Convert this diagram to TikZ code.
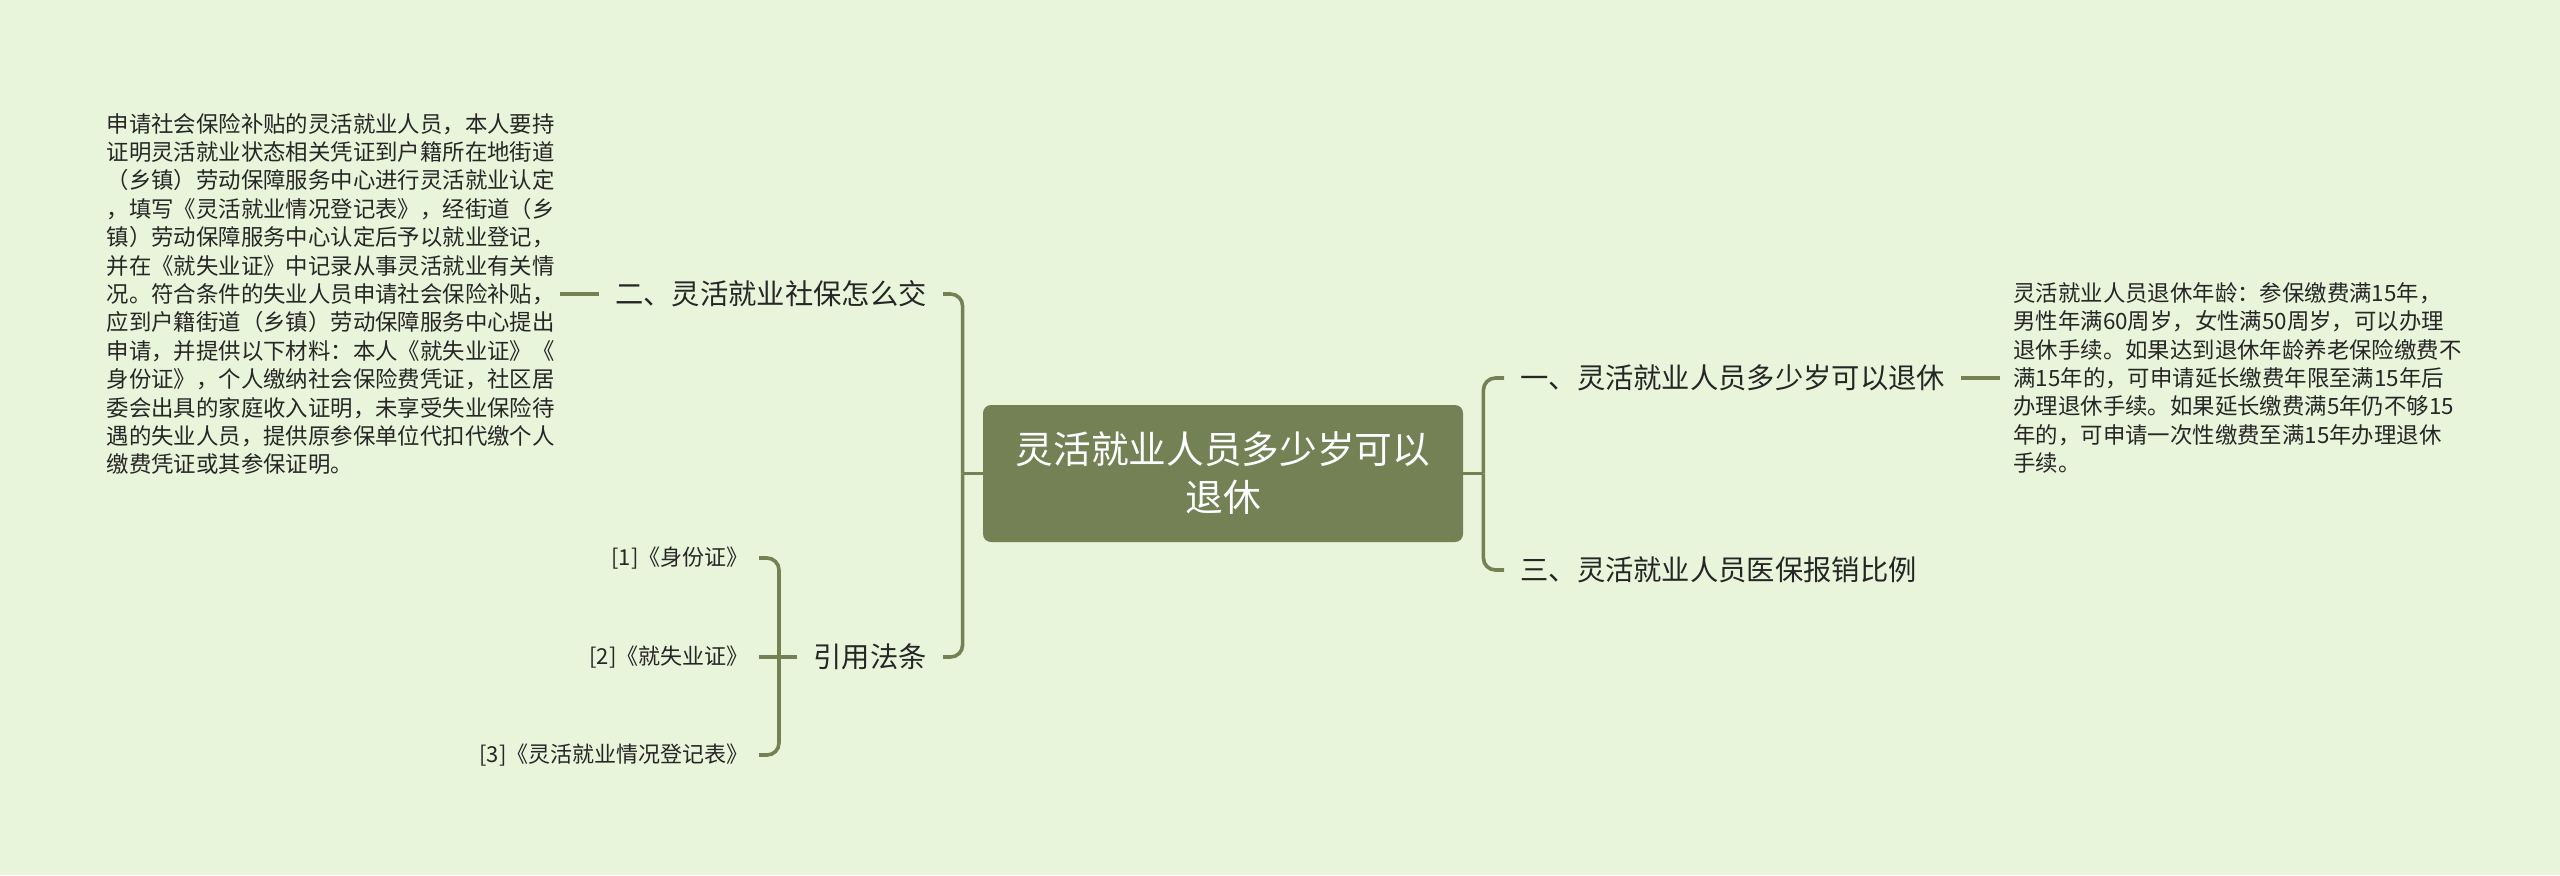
\documentclass[tikz,border=0pt]{standalone}
\usepackage{fontspec}
\newfontfamily\cjk{Noto Sans CJK SC}
\definecolor{bg}{HTML}{E8F5DB}
\definecolor{olive}{HTML}{738154}
\definecolor{txt}{HTML}{262626}
\begin{document}
\begin{tikzpicture}[x=0.5pt,y=-0.5pt,
  conn/.style={draw=olive,line width=1.8pt,rounded corners=6pt},
  rootbox/.style={fill=olive,rounded corners=4pt,minimum width=240pt,minimum height=68.5pt,text=white,align=center,font=\cjk\fontsize{18.85pt}{24pt}\selectfont,inner sep=0pt},
  branch/.style={text=txt,font=\cjk\fontsize{14.15pt}{17pt}\selectfont,inner xsep=8pt,inner ysep=3pt},
  para/.style={text=txt,align=left,font=\cjk\fontsize{11.2pt}{14.2pt}\selectfont,inner ysep=2pt},
  cite/.style={text=txt,font=\cjk\fontsize{11pt}{13pt}\selectfont,inner xsep=5pt}]
\fill[bg] (0,0) rectangle (2560,875);
\useasboundingbox (0,0) rectangle (2560,875);

\node[rootbox] (root) at (1223,473.5) {灵活就业人员多少岁可以\\退休};

\node[branch,anchor=west] (b1) at (1504,378) {一、灵活就业人员多少岁可以退休};
\node[branch,anchor=west] (b3) at (1504,570) {三、灵活就业人员医保报销比例};
\node[branch,anchor=east] (b2) at (943,294) {二、灵活就业社保怎么交};
\node[branch,anchor=east] (b4) at (943,657) {引用法条};

\node[para,inner xsep=6.5pt,anchor=west] (p1) at (2000,378) {灵活就业人员退休年龄：参保缴费满15年，\\男性年满60周岁，女性满50周岁，可以办理\\退休手续。如果达到退休年龄养老保险缴费不\\满15年的，可申请延长缴费年限至满15年后\\办理退休手续。如果延长缴费满5年仍不够15\\年的，可申请一次性缴费至满15年办理退休\\手续。};

\node[para,inner xsep=2.5pt,anchor=east] (p2) at (560,294) {申请社会保险补贴的灵活就业人员，本人要持\\证明灵活就业状态相关凭证到户籍所在地街道\\（乡镇）劳动保障服务中心进行灵活就业认定\\，填写《灵活就业情况登记表》，经街道（乡\\镇）劳动保障服务中心认定后予以就业登记，\\并在《就失业证》中记录从事灵活就业有关情\\况。符合条件的失业人员申请社会保险补贴，\\应到户籍街道（乡镇）劳动保障服务中心提出\\申请，并提供以下材料：本人《就失业证》《\\身份证》，个人缴纳社会保险费凭证，社区居\\委会出具的家庭收入证明，未享受失业保险待\\遇的失业人员，提供原参保单位代扣代缴个人\\缴费凭证或其参保证明。};

\node[cite,anchor=east] (c1) at (759,558) {[1]《身份证》};
\node[cite,anchor=east] (c2) at (759,657) {[2]《就失业证》};
\node[cite,anchor=east] (c3) at (759,755) {[3]《灵活就业情况登记表》};

\coordinate (jl) at ([xshift=-10pt]root.west);
\coordinate (jr) at ([xshift=10pt]root.east);
\coordinate (jc) at ([xshift=-9pt]b4.west);

\draw[conn] (root.west) -- (jl);
\draw[conn] (jl) |- (b2.east);
\draw[conn] (jl) |- (b4.east);
\draw[conn] (root.east) -- (jr);
\draw[conn] (jr) |- (b1.west);
\draw[conn] (jr) |- (b3.west);
\draw[conn] (b1.east) -- (p1.west);
\draw[conn] (p2.east) -- (b2.west);
\draw[conn] (b4.west) -- (c2.east);
\draw[conn] (jc) |- (c1.east);
\draw[conn] (jc) |- (c3.east);
\end{tikzpicture}
\end{document}
